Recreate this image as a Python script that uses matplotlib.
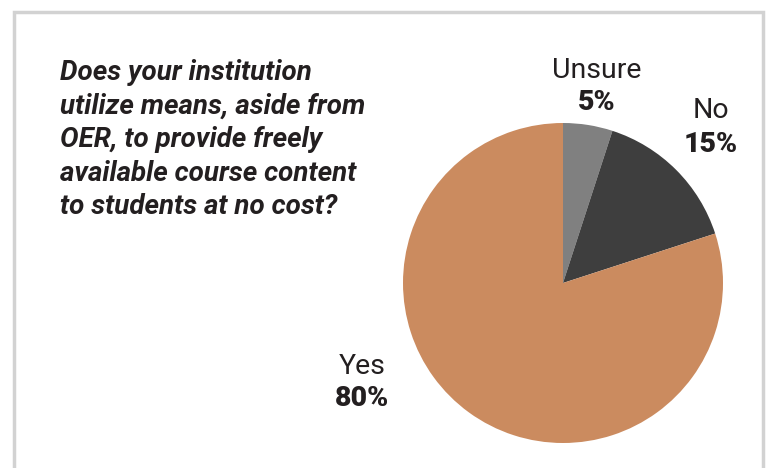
import matplotlib.pyplot as plt
from matplotlib.patches import Rectangle

# survey answers, clockwise from 12 o'clock
answers = ["Unsure", "No", "Yes"]
shares = [5, 15, 80]
colors = ["#808080", "#3e3e3e", "#cb8b5f"]

question = ("Does your institution\n"
            "utilize means, aside from\n"
            "OER, to provide freely\n"
            "available course content\n"
            "to students at no cost?")

W, H = 770, 468
fig = plt.figure(figsize=(W / 100, H / 100), dpi=100)
fig.patch.set_facecolor("white")

# light grey frame (bottom edge runs off the page)
fig.patches.append(Rectangle((14 / W, -0.1), (763 - 14) / W, 1.1 - 12 / H,
                             transform=fig.transFigure, fill=False,
                             edgecolor="#d2d2d2", linewidth=2.5))

fig.text(60 / W, 1 - 59 / H, question, ha="left", va="top",
         family="Roboto", weight="bold", style="italic", fontsize=20,
         color="#231f20", linespacing=1.31)

# pie: centre (563, 283), radius 160 px
cx, cy, r = 563, 283, 160
ax = fig.add_axes([(cx - r) / W, (H - cy - r) / H, 2 * r / W, 2 * r / H])
ax.pie(shares, colors=colors, startangle=90, counterclock=False,
       wedgeprops=dict(linewidth=0))
ax.set_xlim(-1, 1)
ax.set_ylim(-1, 1)
ax.set_aspect("equal")
ax.axis("off")

# labels: name above, bold percentage below
label_pos = {"Unsure": (597, 70), "No": (711, 111), "Yes": (362, 366)}
for name, val in zip(answers, shares):
    x, y = label_pos[name]
    fig.text(x / W, 1 - y / H, name, ha="center", va="center",
             family="Roboto", fontsize=20.5, color="#231f20")
    fig.text(x / W, 1 - (y + 33) / H, f"{val}%", ha="center", va="center",
             family="Roboto", weight="heavy", fontsize=20.5, color="#231f20")

fig.savefig("out.png", dpi=100)
